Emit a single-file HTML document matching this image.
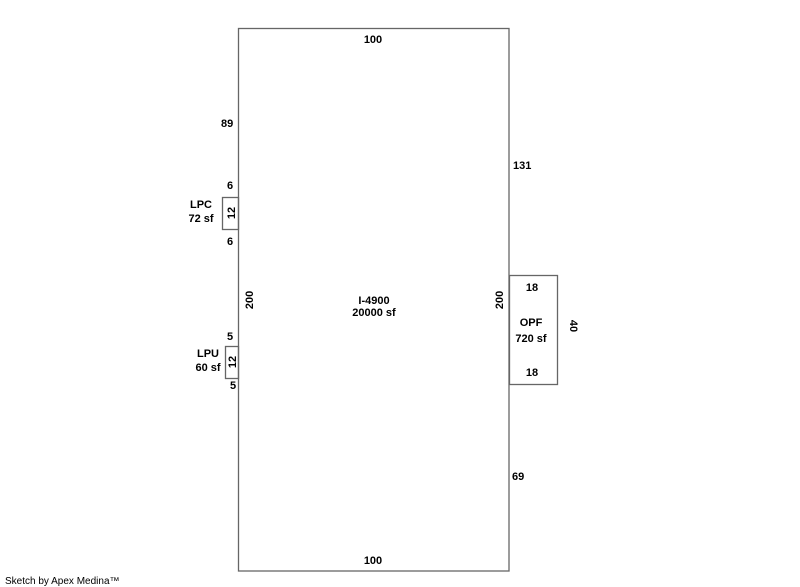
<!DOCTYPE html>
<html><head><style>
html,body{margin:0;padding:0;background:#fff;}
svg{display:block;}
text{font-family:"Liberation Sans",Arial,sans-serif;font-size:11px;font-weight:bold;fill:#000;}
</style></head><body>
<svg width="800" height="587" viewBox="0 0 800 587">
<g fill="none" stroke="#666" stroke-width="1.3">
<rect x="238.5" y="28.5" width="270.5" height="542.5"/>
<rect x="222.5" y="197.5" width="16" height="32"/>
<rect x="225.5" y="346.5" width="13" height="32"/>
<rect x="509.5" y="275.5" width="48" height="109"/>
</g>
<text x="373" y="43" text-anchor="middle">100</text>
<text x="373" y="564" text-anchor="middle">100</text>
<text x="221" y="127">89</text>
<text x="513" y="169">131</text>
<text x="512" y="480">69</text>
<text x="230" y="189" text-anchor="middle">6</text>
<text x="230" y="245" text-anchor="middle">6</text>
<text x="230" y="340" text-anchor="middle">5</text>
<text x="233" y="389" text-anchor="middle">5</text>
<text x="201" y="208" text-anchor="middle">LPC</text>
<text x="201" y="222" text-anchor="middle">72 sf</text>
<text x="208" y="357" text-anchor="middle">LPU</text>
<text x="208" y="371" text-anchor="middle">60 sf</text>
<text transform="translate(235,213) rotate(-90)" text-anchor="middle">12</text>
<text transform="translate(236,362) rotate(-90)" text-anchor="middle">12</text>
<text transform="translate(253,300) rotate(-90)" text-anchor="middle">200</text>
<text transform="translate(503,300) rotate(-90)" text-anchor="middle">200</text>
<text transform="translate(570,326) rotate(90)" text-anchor="middle">40</text>
<text x="374" y="304" text-anchor="middle">I-4900</text>
<text x="374" y="316" text-anchor="middle">20000 sf</text>
<text x="532" y="291" text-anchor="middle">18</text>
<text x="532" y="376" text-anchor="middle">18</text>
<text x="531" y="326" text-anchor="middle">OPF</text>
<text x="531" y="342" text-anchor="middle">720 sf</text>
<text x="5" y="584" style="font-weight:normal;font-size:10px">Sketch by Apex Medina™</text>
</svg>
</body></html>
